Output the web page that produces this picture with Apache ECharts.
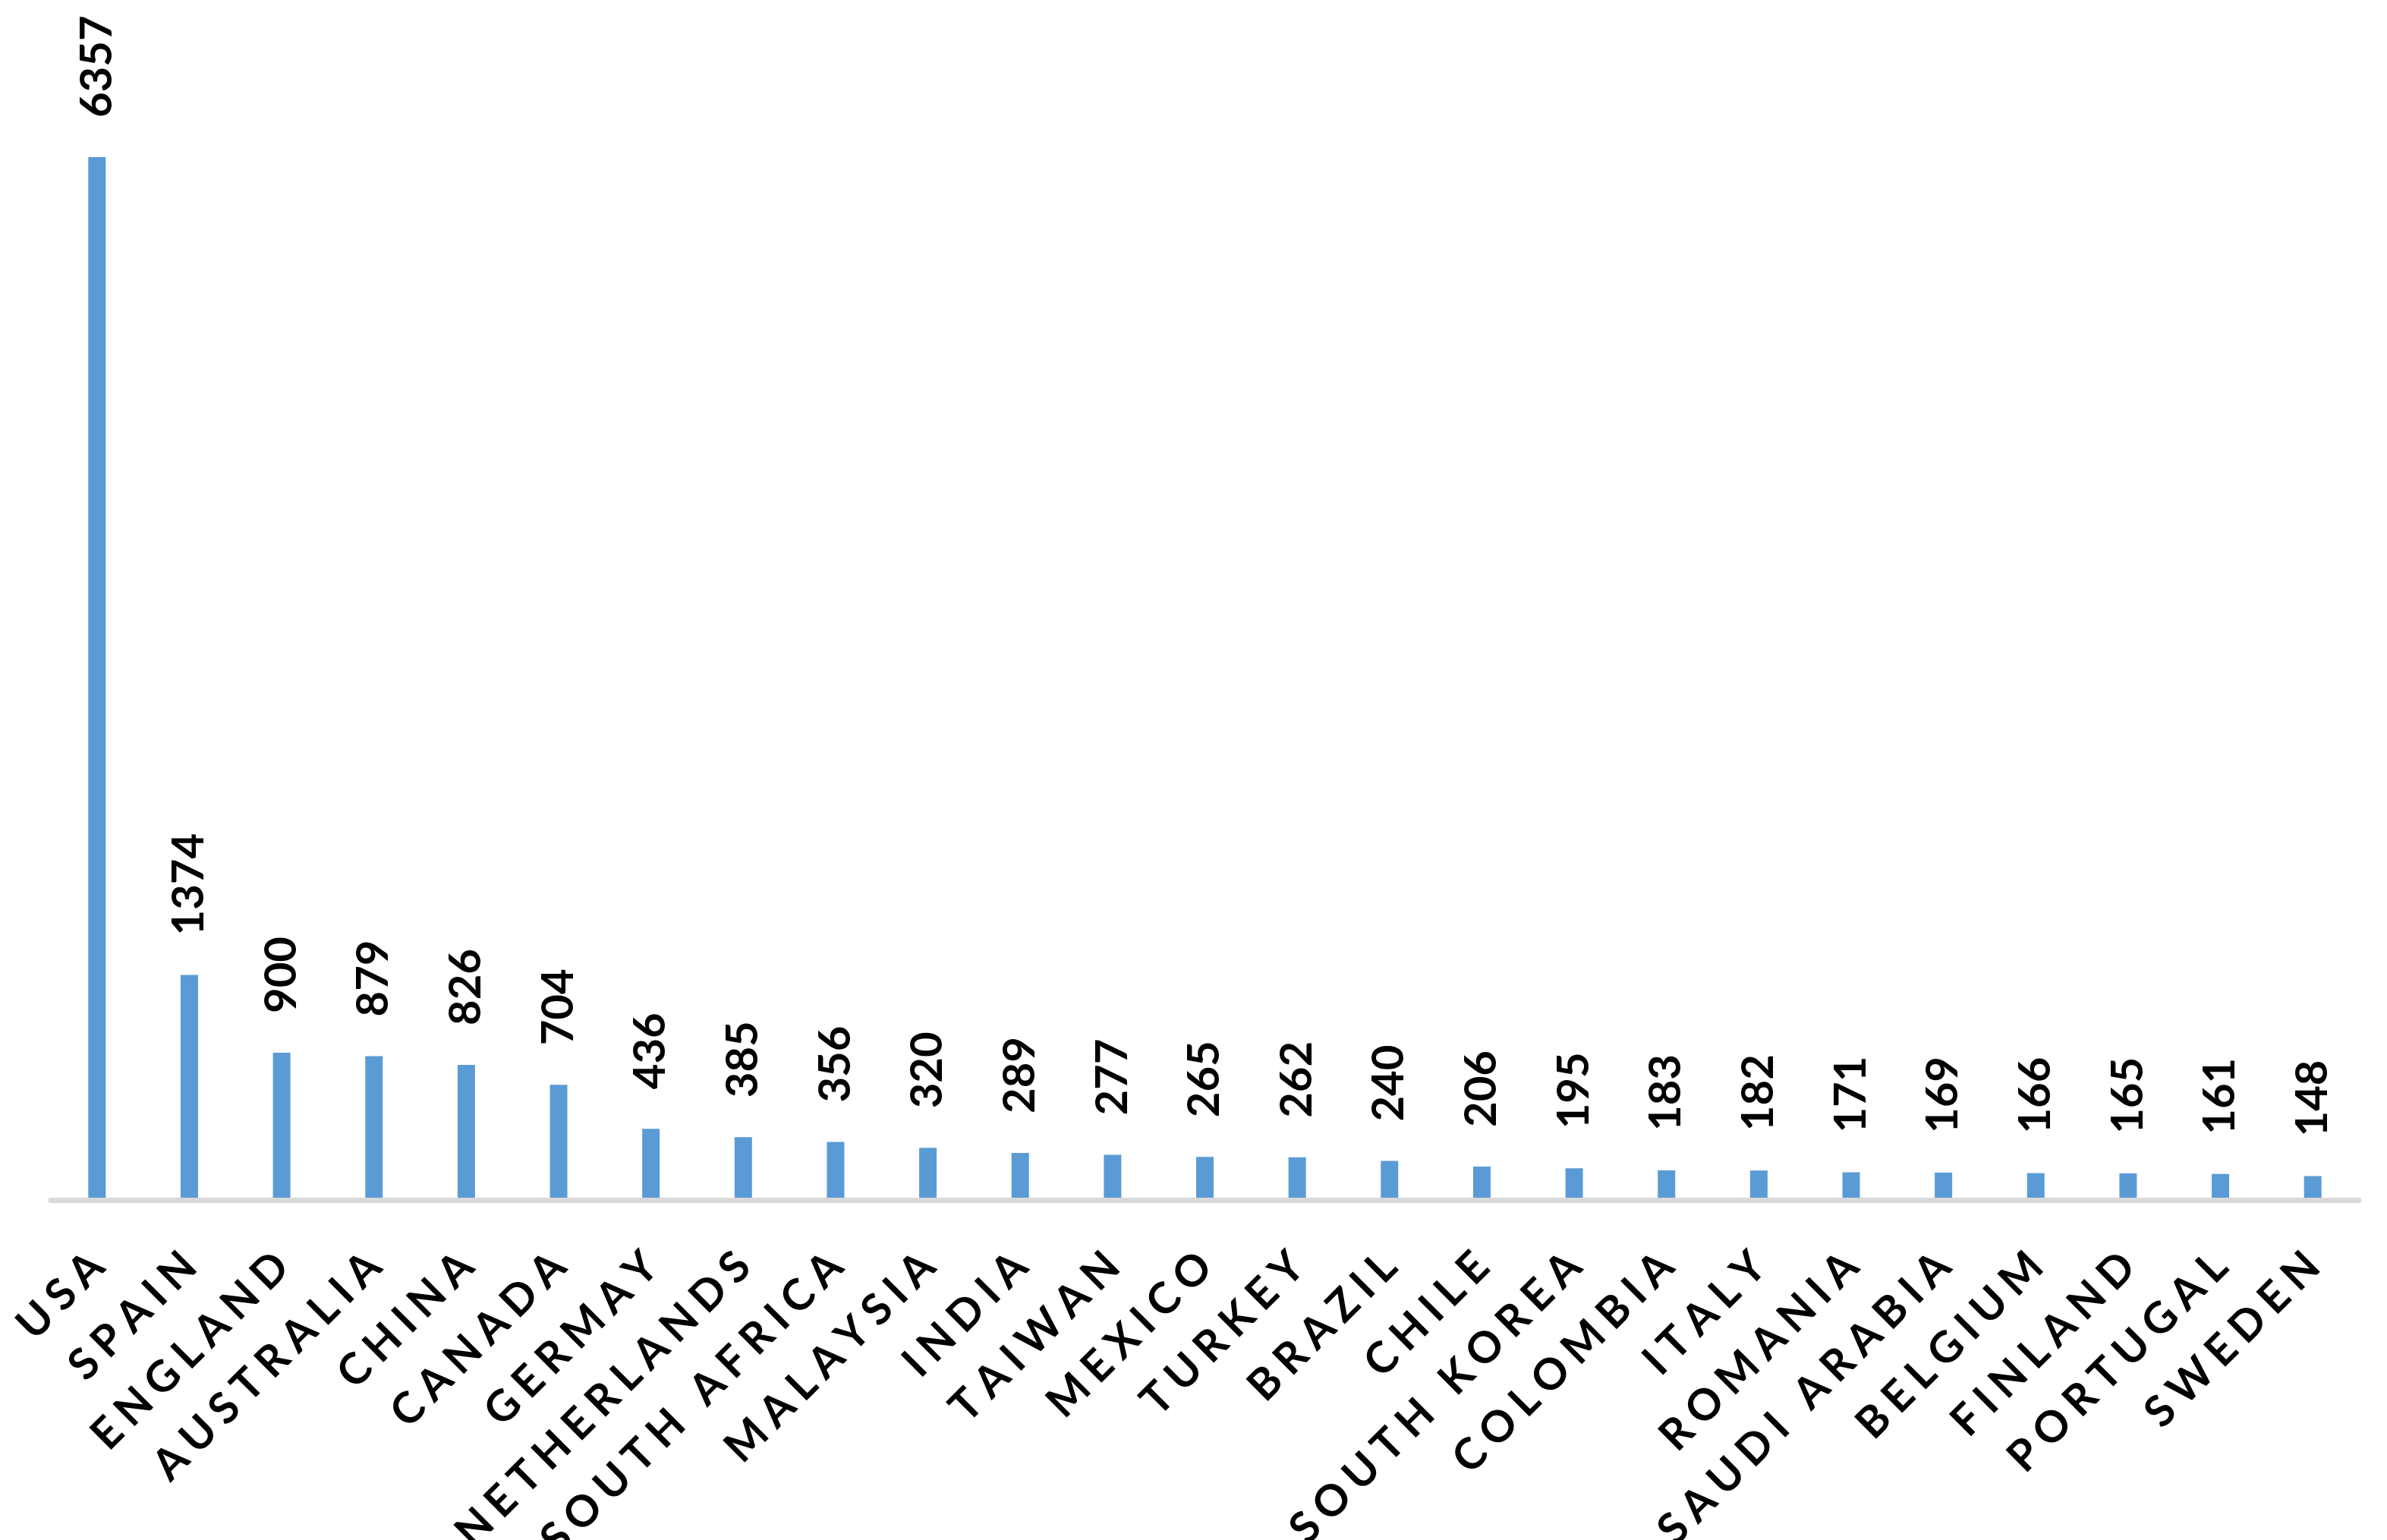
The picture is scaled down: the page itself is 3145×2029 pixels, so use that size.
<!DOCTYPE html>
<html>
<head>
<meta charset="utf-8">
<script src="https://cdn.jsdelivr.net/npm/echarts@6/dist/echarts.min.js"></script>
<style>
html,body{margin:0;padding:0;background:#fff;overflow:hidden;}
#chart{width:3145px;height:2029px;}
</style>
</head>
<body>
<div id="chart"></div>
<script>
const categories = ['USA','SPAIN','ENGLAND','AUSTRALIA','CHINA','CANADA','GERMAY','NETHERLANDS','SOUTH AFRICA','MALAYSIA','INDIA','TAIWAN','MEXICO','TURKEY','BRAZIL','CHILE','SOUTH KOREA','COLOMBIA','ITALY','ROMANIA','SAUDI ARABIA','BELGIUM','FINLAND','PORTUGAL','SWEDEN'];
const values = [6357,1374,900,879,826,704,436,385,356,320,289,277,265,262,240,206,195,183,182,171,169,166,165,161,148];

const chart = echarts.init(document.getElementById('chart'), null, {renderer:'canvas'});
chart.setOption({
  backgroundColor:'#ffffff',
  animation:false,
  grid:{left:67,right:37,top:68,bottom:447.5,containLabel:false,outerBoundsMode:'none'},
  xAxis:{
    type:'category',
    data:categories,
    z:10,
    axisTick:{show:false},
    axisLine:{show:true,lineStyle:{color:'#D9D9D9',width:7}},
    axisLabel:{
      interval:0,
      rotate:45,
      margin:78,
      hideOverlap:false,
      color:'#000',
      fontFamily:'Lato',
      fontWeight:'bold',
      fontSize:57,
      formatter:function(v){
        const ch = v.split('');
        return ch.map((c,i)=> (i<ch.length-1 ? '{s|' : '{e|') + c + '}').join('');
      },
      rich:{
        s:{fontFamily:'Lato',fontWeight:'bold',fontSize:57,color:'#000',padding:[0,11,0,0]},
        e:{fontFamily:'Lato',fontWeight:'bold',fontSize:57,color:'#000'}
      }
    }
  },
  yAxis:{type:'value',min:0,max:7000,show:false,splitLine:{show:false}},
  series:[{
    type:'bar',
    data:values,
    barWidth:23,
    itemStyle:{color:'#5B9BD5'},
    label:{
      show:true,
      position:'top',
      rotate:90,
      align:'left',
      verticalAlign:'middle',
      distance:52,
      color:'#000',
      fontFamily:'Lato',
      fontWeight:'bold',
      fontSize:58
    }
  }]
});
</script>
</body>
</html>
